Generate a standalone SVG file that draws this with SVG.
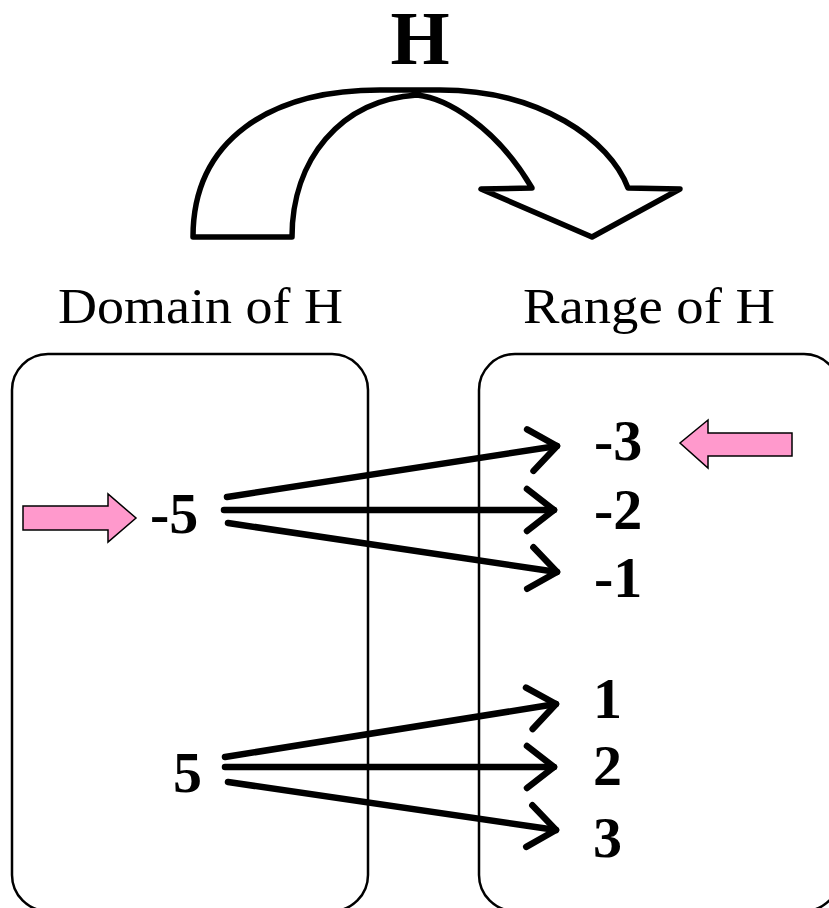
<svg xmlns="http://www.w3.org/2000/svg" width="829" height="908" viewBox="0 0 829 908">
<style>
  text { font-family: "Liberation Serif", "Times New Roman", serif; fill: #000; }
  .num { font-size: 58px; font-weight: bold; }
  .lbl { font-size: 50px; }
  .box { fill: none; stroke: #000; stroke-width: 2.5; }
  .pink { fill: #FF99CC; stroke: #000; stroke-width: 1.5; stroke-linejoin: miter; }
  .conn line { stroke: #000; stroke-width: 6.5; stroke-linecap: round; marker-end: url(#chev); }
</style>
<defs>
  <marker id="chev" markerUnits="userSpaceOnUse" markerWidth="70" markerHeight="70" viewBox="-35 -35 70 70" refX="0" refY="0" orient="auto" overflow="visible">
    <path d="M-27,-21 L0,0 L-27,21" fill="none" stroke="#000" stroke-width="6.5" stroke-linecap="round" stroke-linejoin="round"/>
  </marker>
</defs>
<rect width="829" height="908" fill="#fff"/>

<g id="title">
  <text x="420" y="64" text-anchor="middle" style="font-size:76px;font-weight:bold">H</text>
</g>

<g id="curved-arrow">
  <path d="M193,237 C193,140 270,90 380,90 L440,90 C540,90 610,140 628,188 L680,189 L592,237 L481,189 L532,188 C495,125 445,98 417,95 C340,100 292,160 292,237 Z" fill="#fff" stroke="#000" stroke-width="5.5" stroke-linejoin="round"/>
</g>

<g id="domain">
  <text class="lbl" x="58" y="323" textLength="285" lengthAdjust="spacingAndGlyphs">Domain of H</text>
  <rect class="box" x="12" y="354" width="356" height="557" rx="36" ry="36"/>
</g>

<g id="range">
  <text class="lbl" x="523" y="323" textLength="252" lengthAdjust="spacingAndGlyphs">Range of H</text>
  <rect class="box" x="479" y="354" width="361" height="557" rx="36" ry="36"/>
</g>

<g id="pointer-left">
  <path class="pink" d="M23,506 L108,506 L108,494 L136,518 L108,542 L108,530 L23,530 Z"/>
</g>
<g id="pointer-right">
  <path class="pink" d="M792,433 L708,433 L708,420 L680,443 L708,468 L708,456 L792,456 Z"/>
</g>

<g id="node-m5"><text class="num" x="150" y="533">-5</text></g>
<g id="node-5"><text class="num" x="173" y="792">5</text></g>
<g id="node-m3"><text class="num" x="594" y="460">-3</text></g>
<g id="node-m2"><text class="num" x="594" y="529">-2</text></g>
<g id="node-m1"><text class="num" x="594" y="597">-1</text></g>
<g id="node-1"><text class="num" x="593" y="718">1</text></g>
<g id="node-2"><text class="num" x="593" y="785">2</text></g>
<g id="node-3"><text class="num" x="593" y="857">3</text></g>

<g id="connectors" class="conn">
  <line x1="227" y1="497" x2="557" y2="446"/>
  <line x1="224" y1="510" x2="554" y2="510"/>
  <line x1="228" y1="523" x2="557" y2="572"/>
  <line x1="225" y1="757" x2="556" y2="704"/>
  <line x1="225" y1="767" x2="554" y2="767"/>
  <line x1="228" y1="782" x2="556" y2="830"/>
</g>
</svg>
